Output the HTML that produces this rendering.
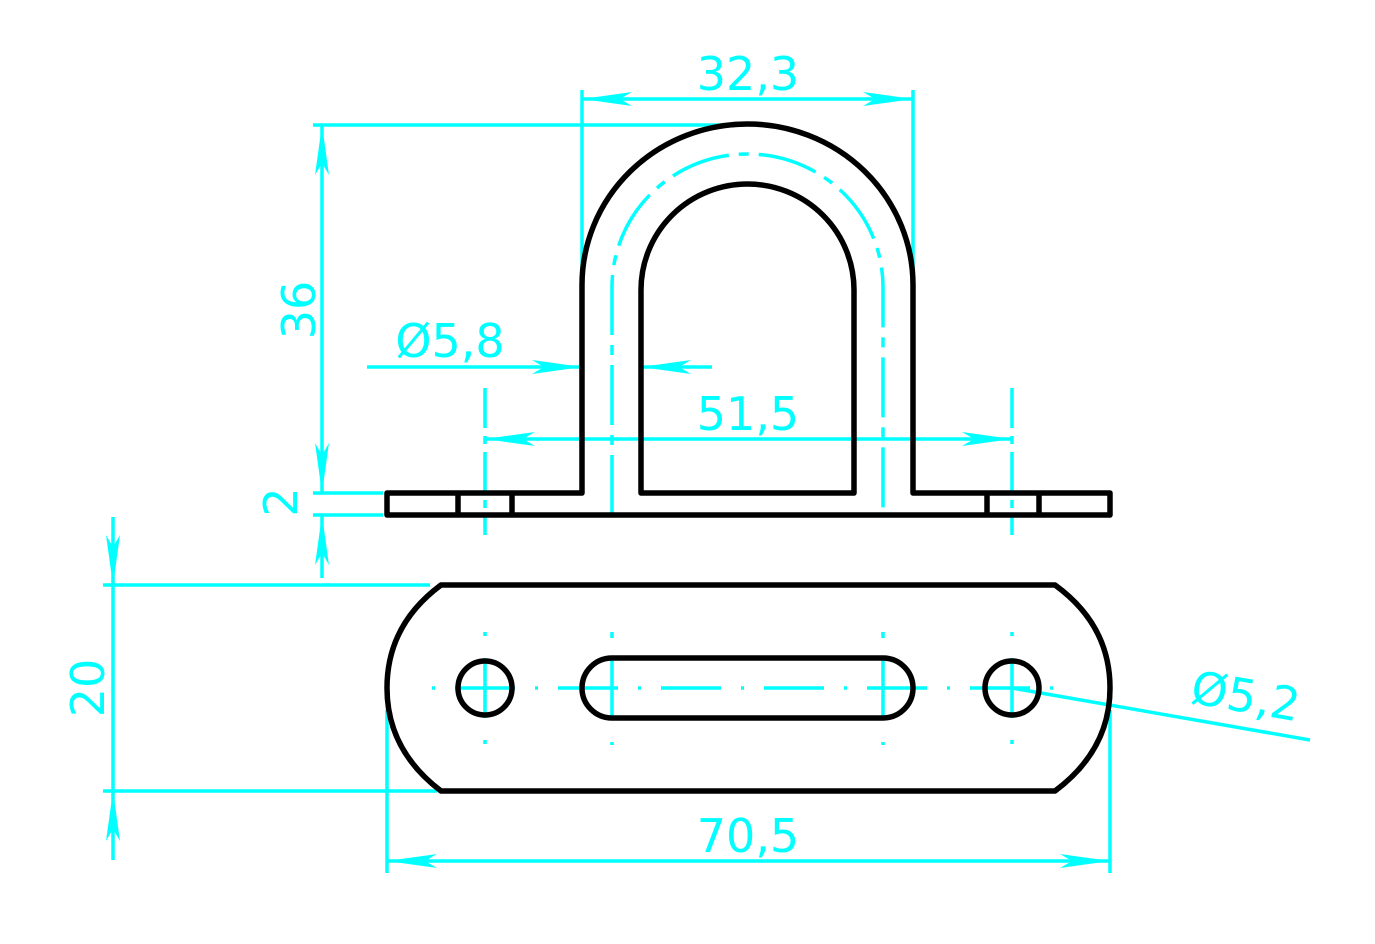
<!DOCTYPE html>
<html><head><style>html,body{margin:0;padding:0;background:#fff}svg{display:block}</style></head>
<body>
<svg width="1375" height="944" viewBox="0 0 1375 944" xmlns="http://www.w3.org/2000/svg">
<defs>
<marker id="a" viewBox="0 0 50 14" refX="50" refY="7" markerWidth="50" markerHeight="14" markerUnits="userSpaceOnUse" orient="auto-start-reverse">
<polygon points="50,7 0,0 12,7 0,14" fill="#00ffff"/>
</marker>
</defs>
<g stroke="#00ffff" stroke-width="3.5" fill="none">
 <line x1="582" y1="90" x2="582" y2="285"/>
 <line x1="913" y1="90" x2="913" y2="285"/>
 <line x1="582" y1="99" x2="913" y2="99" marker-start="url(#a)" marker-end="url(#a)"/>
 <line x1="313" y1="125" x2="740" y2="125"/>
 <line x1="322" y1="125" x2="322" y2="493" marker-start="url(#a)" marker-end="url(#a)"/>
 <line x1="313" y1="493" x2="383" y2="493"/>
 <line x1="313" y1="515" x2="383" y2="515"/>
 <line x1="322" y1="515" x2="322" y2="578" marker-start="url(#a)"/>
 <line x1="367" y1="367" x2="582" y2="367" marker-end="url(#a)"/>
 <line x1="641" y1="367" x2="712" y2="367" marker-start="url(#a)"/>
 <line x1="485" y1="388" x2="485" y2="535" stroke-dasharray="40,8,8,8"/>
 <line x1="1012" y1="388" x2="1012" y2="535" stroke-dasharray="40,8,8,8"/>
 <line x1="485" y1="439" x2="1012" y2="439" marker-start="url(#a)" marker-end="url(#a)"/>
 <path d="M612,515 L612,287 A135.5,133 0 0 1 883,287 L883,515" stroke-dasharray="60,10,10,10"/>
 <line x1="103" y1="585" x2="430" y2="585"/>
 <line x1="103" y1="791" x2="437" y2="791"/>
 <line x1="113" y1="517" x2="113" y2="585" marker-end="url(#a)"/>
 <line x1="113" y1="585" x2="113" y2="791"/>
 <line x1="113" y1="860" x2="113" y2="791" marker-end="url(#a)"/>
 <line x1="387" y1="710" x2="387" y2="873"/>
 <line x1="1110" y1="710" x2="1110" y2="873"/>
 <line x1="387" y1="861" x2="1110" y2="861" marker-start="url(#a)" marker-end="url(#a)"/>
 <line x1="432" y1="688" x2="1065" y2="688" stroke-dasharray="3,20,60,20"/>
 <line x1="485" y1="632" x2="485" y2="745" stroke-dasharray="4,22,60,22"/>
 <line x1="612" y1="632" x2="612" y2="745" stroke-dasharray="6,22,60,22"/>
 <line x1="883" y1="632" x2="883" y2="745" stroke-dasharray="6,22,60,22"/>
 <line x1="1012" y1="632" x2="1012" y2="745" stroke-dasharray="4,22,60,22"/>
 <line x1="1012" y1="688" x2="1310" y2="740"/>
</g>
<g stroke="#000" stroke-width="5.5" fill="none" stroke-linejoin="round">
 <path d="M582,493 L582,285 A165.5,161 0 0 1 913,285 L913,493 L1110,493 L1110,515 L387,515 L387,493 Z"/>
 <path d="M641,493 L641,290 A106.5,106 0 0 1 854,290 L854,493 Z"/>
 <line x1="458" y1="493" x2="458" y2="515"/>
 <line x1="512" y1="493" x2="512" y2="515"/>
 <line x1="987" y1="493" x2="987" y2="515"/>
 <line x1="1039" y1="493" x2="1039" y2="515"/>
 <path d="M441,585 L1055,585 Q1110,625 1110,688 Q1110,750 1055,791 L441,791 Q387,750 387,688 Q387,625 441,585 Z"/>
 <circle cx="485" cy="688" r="27"/>
 <circle cx="1012" cy="688" r="27"/>
 <rect x="582" y="658" width="331" height="60" rx="30"/>
</g>
<g fill="#00ffff" font-family="DejaVu Sans, Liberation Sans, sans-serif" font-size="46">
 <text x="748" y="90" text-anchor="middle">32,3</text>
 <text x="748" y="430" text-anchor="middle">51,5</text>
 <text x="748" y="852" text-anchor="middle">70,5</text>
 <text x="450" y="357" text-anchor="middle">Ø5,8</text>
 <text transform="translate(315,310) rotate(-90)" text-anchor="middle">36</text>
 <text transform="translate(297,502) rotate(-90)" text-anchor="middle">2</text>
 <text transform="translate(104,688) rotate(-90)" text-anchor="middle">20</text>
 <text transform="translate(1243,712) rotate(10)" text-anchor="middle">Ø5,2</text>
</g>
</svg>
</body></html>
